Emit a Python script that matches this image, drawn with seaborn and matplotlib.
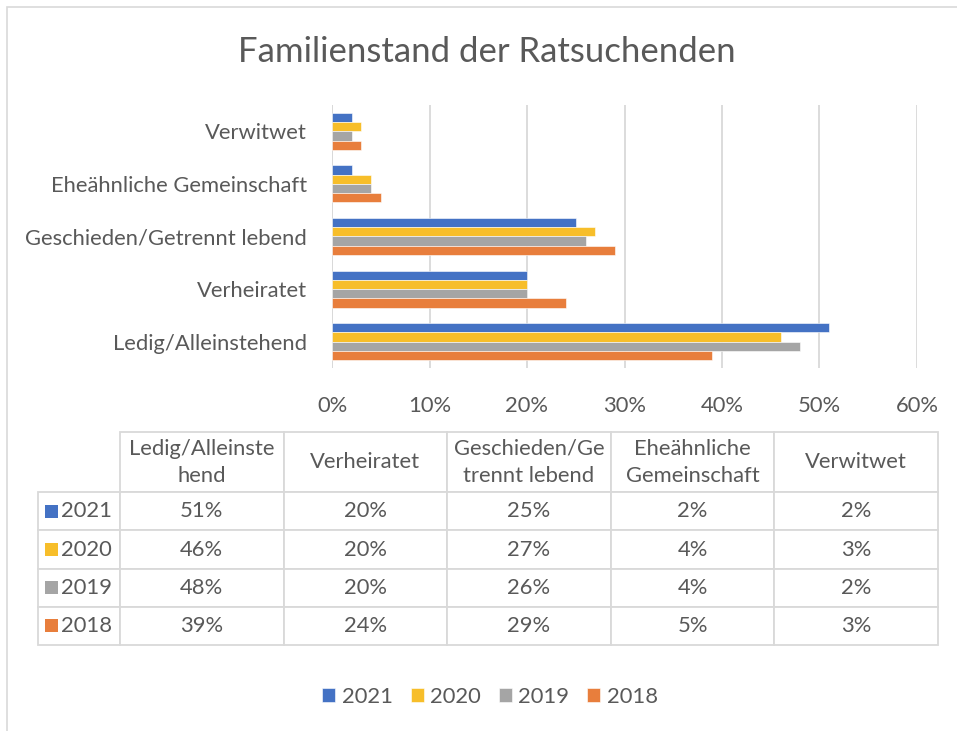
"""
Familienstand der Ratsuchenden - grouped horizontal bars with data table
"""
import matplotlib
matplotlib.use("Agg")
import matplotlib.pyplot as plt
from matplotlib.patches import Rectangle
from matplotlib.ticker import PercentFormatter
import seaborn as sns
import pandas as pd

# --- data -------------------------------------------------------------
categories = ['Ledig/Alleinstehend', 'Verheiratet', 'Geschieden/Getrennt lebend',
              'Eheähnliche Gemeinschaft', 'Verwitwet']
table_headers = ['Ledig/Alleinste\nhend', 'Verheiratet', 'Geschieden/Ge\ntrennt lebend',
                 'Eheähnliche\nGemeinschaft', 'Verwitwet']
years = ['2021', '2020', '2019', '2018']
values_2021 = [51, 20, 25, 2, 2]
values_2020 = [46, 20, 27, 4, 3]
values_2019 = [48, 20, 26, 4, 2]
values_2018 = [39, 24, 29, 5, 3]
x_ticks = [0, 10, 20, 30, 40, 50, 60]
title = 'Familienstand der Ratsuchenden'

series = dict(zip(years, [values_2021, values_2020, values_2019, values_2018]))
colors = dict(zip(years, ['#4472C4', '#F7BE2A', '#A5A5A5', '#E87E3C']))

df = pd.DataFrame([
    {'Kategorie': cat, 'Jahr': yr, 'Anteil': val}
    for yr in years for cat, val in zip(categories, series[yr])
])

# --- style ------------------------------------------------------------
sns.set_style("white")
plt.rcParams['font.family'] = ['Lato', 'DejaVu Sans']
TXT = '#595959'
GRID = '#D9D9D9'
FS = 15.8

W, H = 957, 731
fig = plt.figure(figsize=(W / 100, H / 100), dpi=100)


def fig_box(x0, y0, x1, y1):
    """pixel box (top-left origin) -> figure fraction rect"""
    return [x0 / W, 1 - y1 / H, (x1 - x0) / W, (y1 - y0) / H]


# outer chart border (cropped on right/bottom in the reference)
fig.patches.append(Rectangle((7 / W, -0.1), 1.2, 1 - 7 / H + 0.1,
                             transform=fig.transFigure, fill=False,
                             edgecolor=GRID, linewidth=1.2))

fig.text(487 / W, 1 - 52 / H, title, ha='center', va='center',
         fontsize=25, color=TXT)

# --- bar chart --------------------------------------------------------
ax = fig.add_axes(fig_box(332, 105, 917, 368))
order = categories[::-1]
sns.barplot(data=df, y='Kategorie', x='Anteil', hue='Jahr', order=order,
            hue_order=years, palette=colors, saturation=1, orient='h',
            width=0.7, edgecolor='white', linewidth=0.4, ax=ax)

ax.set_xlim(0, 60)
ax.set_xticks(x_ticks)
ax.xaxis.set_major_formatter(PercentFormatter(decimals=0))
ax.grid(axis='x', color=GRID, linewidth=1.3)
ax.set_axisbelow(True)
for side in ['top', 'right', 'bottom', 'left']:
    ax.spines[side].set_visible(False)
ax.axvline(0, color=GRID, linewidth=1.3, zorder=0)
ax.set_xlabel('')
ax.set_ylabel('')
ax.tick_params(axis='y', length=0, pad=18, labelsize=FS, labelcolor=TXT)
ax.tick_params(axis='x', length=0, pad=20, labelsize=FS, labelcolor=TXT)

handles, labels = ax.get_legend_handles_labels()
ax.get_legend().remove()

# --- data table -------------------------------------------------------
tab_ax = fig.add_axes(fig_box(38, 432, 938, 645))
tab_ax.axis('off')
cell_text = [[yr] + [f'{v}%' for v in series[yr]] for yr in years]
col_widths = [82] + [163.6] * len(categories)
tbl = tab_ax.table(cellText=cell_text, colLabels=[''] + table_headers,
                   colWidths=col_widths, cellLoc='center', colLoc='center',
                   bbox=[0, 0, 1, 1])
tbl.auto_set_font_size(False)
for (r, c), cell in tbl.get_celld().items():
    cell.set_edgecolor(GRID)
    cell.set_linewidth(1.3)
    cell.get_text().set_color(TXT)
    cell.get_text().set_fontsize(FS)
    cell.set_height(60 if r == 0 else 38)
    if r == 0:
        cell.get_text().set_linespacing(1.45)
    if r == 0 and c == 0:
        cell.visible_edges = ''
    if r > 0 and c == 0:
        cell.get_text().set_ha('right')
        cell._loc = 'right'

# legend keys inside row label cells
for i, yr in enumerate(years):
    yc = 1 - (60 + 38 * i + 19) / 213
    tab_ax.add_patch(Rectangle((7 / 900, yc - 6.5 / 213), 13 / 900, 13 / 213,
                               transform=tab_ax.transAxes, facecolor=colors[yr],
                               edgecolor='none', clip_on=False))

# --- legend -----------------------------------------------------------
fig.legend(handles, labels, loc='center', bbox_to_anchor=(490 / W, 1 - 697 / H),
           ncol=4, frameon=False, fontsize=FS, labelcolor=TXT,
           handlelength=0.6, handleheight=0.6, handletextpad=0.3,
           columnspacing=0.8)

fig.savefig('out.png', dpi=100, facecolor='white')
